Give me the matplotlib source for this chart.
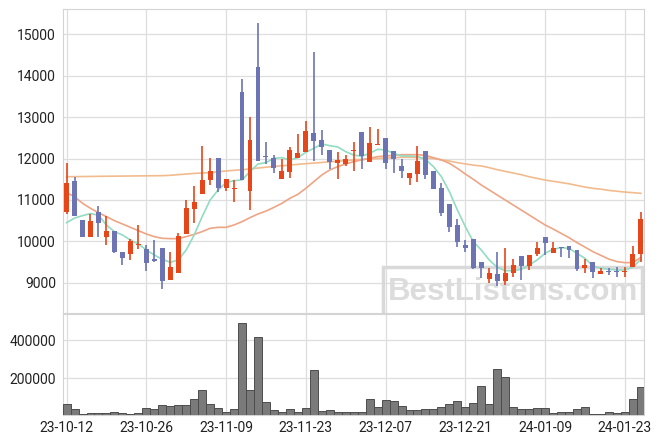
import numpy as np
import pandas as pd
import matplotlib
matplotlib.use('Agg')
import matplotlib.pyplot as plt
from matplotlib.patches import Rectangle

plt.rcParams['font.family'] = ['Roboto', 'DejaVu Sans']

# trading days (KRX closed 12-25, 12-29, 01-01)
dates = pd.bdate_range('2023-10-12', '2024-01-25', freq='C',
                       holidays=['2023-12-25', '2023-12-29', '2024-01-01'])

opens = np.array([10720, 11450, 10510, 10110, 10710, 10110, 10250, 9730, 9700, 9900,
                  9810, 9570, 9830, 9070, 9240, 10170, 10790, 11150, 11470, 12010,
                  11300, 11270, 13610, 11220, 14210, 12040, 12010, 11500, 11680, 12020,
                  12150, 12610, 12440, 12200, 11900, 11860, 12170, 12630, 11910, 12320,
                  12500, 12170, 11820, 11540, 11630, 12170, 11690, 11280, 10890, 10390,
                  9900, 10050, 9490, 9100, 9200, 9050, 9230, 9640, 9400, 9700,
                  10100, 9710, 9850, 9880, 9790, 9350, 9490, 9200, 9280, 9260,
                  9250, 9370, 9690])
highs = np.array([11880, 11560, 10520, 10650, 10850, 10600, 10250, 9740, 10060, 10390,
                  9900, 10040, 9830, 9730, 10190, 10990, 11340, 12300, 12010, 12010,
                  11500, 11480, 13930, 13000, 15280, 12400, 12090, 11980, 12280, 12590,
                  12910, 14580, 12700, 12200, 12150, 12090, 12390, 12630, 12750, 12710,
                  12500, 12170, 11990, 11640, 12300, 12170, 11690, 11400, 10890, 10550,
                  10030, 10050, 9490, 9350, 9730, 9850, 9580, 9640, 9660, 9990,
                  10100, 9980, 9870, 9880, 9790, 9580, 9490, 9360, 9360, 9370,
                  9370, 9880, 10700])
lows = np.array([10660, 10600, 10100, 10100, 10110, 9900, 9710, 9420, 9550, 9810,
                 9290, 9490, 8840, 9070, 9240, 10170, 10440, 11150, 11370, 11200,
                 11220, 10940, 11480, 10760, 11930, 11870, 11650, 11500, 11530, 12020,
                 12150, 11940, 12090, 11750, 11500, 11830, 11700, 11750, 11910, 12320,
                 11750, 11640, 11530, 11350, 11440, 11500, 11260, 10600, 10220, 9870,
                 9730, 9320, 9110, 8990, 8920, 8950, 9130, 9070, 9310, 9650,
                 9670, 9710, 9630, 9600, 9290, 9230, 9110, 9200, 9180, 9130,
                 9140, 9370, 9490])
closes = np.array([11420, 10600, 10110, 10490, 10450, 10250, 9750, 9600, 10000, 9940,
                   9470, 9520, 9050, 9380, 10130, 10800, 10950, 11470, 11690, 11300,
                   11500, 11300, 11480, 12440, 11930, 12030, 11760, 11690, 12200, 12130,
                   12670, 12430, 12290, 11910, 11960, 11980, 12200, 12070, 12370, 12350,
                   11880, 12000, 11690, 11640, 11940, 11610, 11270, 10690, 10350, 9990,
                   9840, 9360, 9350, 9240, 9050, 9230, 9440, 9400, 9660, 9830,
                   9970, 9830, 9830, 9800, 9320, 9440, 9270, 9280, 9250, 9250,
                   9270, 9690, 10540])
volumes = np.array([63200, 38600, 10500, 15800, 15800, 15800, 21000, 15800, 10500, 15800,
                    42100, 36800, 57900, 52600, 57900, 57900, 91200, 138600, 63200, 42100,
                    21000, 36800, 489500, 138600, 415800, 73700, 31600, 21000, 36800, 21000,
                    42100, 242100, 26300, 31600, 21000, 21000, 21000, 21000, 89400, 49100,
                    86000, 80700, 52600, 33300, 33300, 38600, 38600, 47400, 63200, 79000,
                    49100, 68400, 157900, 66700, 247400, 205300, 47400, 36800, 36800, 42100,
                    42100, 15800, 21000, 21000, 36800, 47400, 10500, 10500, 21000, 15800,
                    21000, 89400, 152600])

# moving averages
ma_fast = [10450, 10560, 10620, 10670, 10630, 10395, 10234, 10153, 10032, 9936,
           9791, 9670, 9565, 9493, 9549, 9791, 10153, 10596, 10998, 11240,
           11417, 11465, 11482, 11683, 11868, 11900, 12005, 12021, 11965, 12021,
           12150, 12246, 12351, 12311, 12279, 12166, 12085, 12053, 12126, 12223,
           12206, 12126, 12061, 12061, 12045, 11981, 11804, 11562, 11200, 10757,
           10354, 9992, 9791, 9549, 9372, 9291, 9291, 9324, 9428, 9549,
           9710, 9807, 9847, 9831, 9710, 9589, 9404, 9348, 9324, 9308,
           9308, 9372, 9565]
ma_mid = [11175, 11079, 10918, 10797, 10692, 10596, 10499, 10419, 10338, 10258,
          10177, 10113, 10073, 10064, 10064, 10113, 10169, 10234, 10314, 10338,
          10338, 10395, 10475, 10572, 10660, 10730, 10820, 10918, 11039, 11135,
          11280, 11441, 11602, 11723, 11804, 11868, 11924, 11965, 12005, 12045,
          12061, 12077, 12093, 12093, 12093, 12077, 12021, 11965, 11884, 11763,
          11626, 11498, 11361, 11240, 11119, 10998, 10877, 10757, 10636, 10515,
          10395, 10298, 10193, 10089, 9968, 9860, 9750, 9660, 9570, 9510,
          9485, 9485, 9610]
ma_slow = [11560, 11562, 11565, 11567, 11570, 11572, 11574, 11576, 11578, 11580,
           11582, 11584, 11586, 11595, 11610, 11625, 11640, 11650, 11660, 11680,
           11700, 11715, 11730, 11750, 11770, 11790, 11810, 11825, 11840, 11860,
           11875, 11890, 11905, 11920, 11935, 11950, 11965, 11980, 11990, 12000,
           12010, 12020, 12030, 12030, 12025, 12015, 12000, 11970, 11940, 11900,
           11870, 11840, 11820, 11780, 11730, 11690, 11650, 11610, 11560, 11520,
           11480, 11450, 11420, 11390, 11350, 11310, 11280, 11260, 11230, 11210,
           11190, 11175, 11160]

RED = '#e5461a'
BLUE = '#6c74b4'
GRID = '#dedede'

fig = plt.figure(figsize=(6.63, 4.44), dpi=100)
ax = fig.add_axes([0.095, 0.295, 0.8763, 0.684])
axv = fig.add_axes([0.095, 0.0653, 0.8763, 0.2275], sharex=ax)

x = np.arange(len(closes))
colors = np.where(closes >= opens, RED, BLUE)

ax.vlines(x, lows, highs, color=colors, lw=1.2, zorder=3)
body_h = np.maximum(np.abs(closes - opens), 30)
ax.bar(x, body_h, bottom=np.minimum(opens, closes), width=0.62,
       color=colors, linewidth=0, zorder=3)

ax.plot(x, ma_slow, color='#f2bb8e', lw=1.2, zorder=2)
ax.plot(x, ma_mid, color='#eea585', lw=1.2, zorder=2)
ax.plot(x, ma_fast, color='#92dcc2', lw=1.2, zorder=2)

# watermark
ax.add_patch(Rectangle((0.551, -0.1), 0.4456, 0.251, transform=ax.transAxes,
                       fill=False, ec='#d9d9d9', lw=2.5, zorder=1, clip_on=True))
ax.text(0.774, 0.07, 'BestListens.com', transform=ax.transAxes,
        ha='center', va='center', fontsize=22.5, fontweight='bold',
        family='Liberation Sans', color='#dcdcdc', zorder=1)

axv.bar(x, volumes, width=1.0, color='#7a7a7a', edgecolor='#4d4d4d',
        linewidth=0.7, zorder=3)

ax.set_xlim(-0.45, 72.4)
ax.set_ylim(8268, 15604)
axv.set_ylim(6800, 536800)

ax.set_yticks([9000, 10000, 11000, 12000, 13000, 14000, 15000])
axv.set_yticks([200000, 400000])
axv.set_yticklabels(['200000', '400000'])
tick_pos = x[::10]
axv.set_xticks(tick_pos)
axv.set_xticklabels([dates[i].strftime('%y-%m-%d') for i in tick_pos])

for a in (ax, axv):
    a.grid(True, color=GRID, lw=0.9)
    a.set_axisbelow(True)
    for s in a.spines.values():
        s.set_color('#d4d4d4')
    a.tick_params(length=0, labelsize=10, pad=5, labelcolor='#222222')
ax.tick_params(labelbottom=False)
axv.tick_params(axis='x', pad=4)

fig.savefig('out.png', dpi=100)
